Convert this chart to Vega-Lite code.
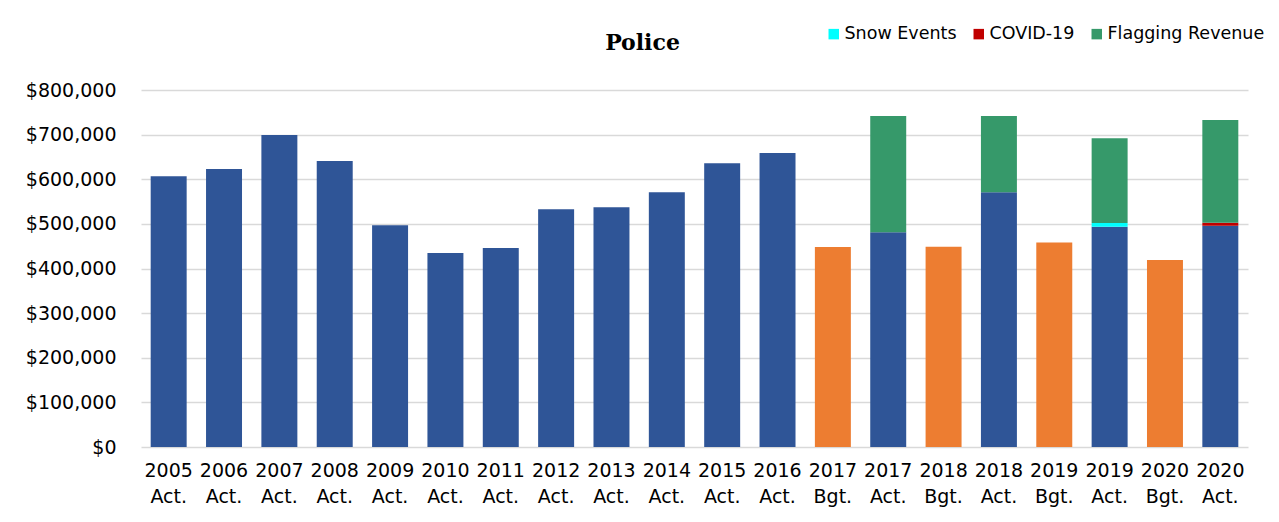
{
  "$schema": "https://vega.github.io/schema/vega-lite/v6.json",
  "width": 1107,
  "height": 357,
  "autosize": {"type": "none"},
  "padding": {"left": 141, "top": 90, "right": 31, "bottom": 75},
  "background": "white",
  "title": {
    "text": "Police",
    "font": "DejaVu Serif",
    "fontSize": 22,
    "fontWeight": "bold",
    "color": "#000000",
    "anchor": "middle",
    "dx": -52,
    "offset": -30
  },
  "data": {
    "values": [
      {"cat": "2005 Act.", "series": "Actual", "value": 607000, "ord": 1},
      {"cat": "2006 Act.", "series": "Actual", "value": 623000, "ord": 1},
      {"cat": "2007 Act.", "series": "Actual", "value": 699000, "ord": 1},
      {"cat": "2008 Act.", "series": "Actual", "value": 641000, "ord": 1},
      {"cat": "2009 Act.", "series": "Actual", "value": 497000, "ord": 1},
      {"cat": "2010 Act.", "series": "Actual", "value": 434500, "ord": 1},
      {"cat": "2011 Act.", "series": "Actual", "value": 446000, "ord": 1},
      {"cat": "2012 Act.", "series": "Actual", "value": 533000, "ord": 1},
      {"cat": "2013 Act.", "series": "Actual", "value": 537000, "ord": 1},
      {"cat": "2014 Act.", "series": "Actual", "value": 571000, "ord": 1},
      {"cat": "2015 Act.", "series": "Actual", "value": 636000, "ord": 1},
      {"cat": "2016 Act.", "series": "Actual", "value": 659000, "ord": 1},
      {"cat": "2017 Bgt.", "series": "Budget", "value": 448000, "ord": 1},
      {"cat": "2017 Act.", "series": "Actual", "value": 481000, "ord": 1},
      {"cat": "2017 Act.", "series": "Flagging Revenue", "value": 261000, "ord": 3},
      {"cat": "2018 Bgt.", "series": "Budget", "value": 449000, "ord": 1},
      {"cat": "2018 Act.", "series": "Actual", "value": 571000, "ord": 1},
      {"cat": "2018 Act.", "series": "Flagging Revenue", "value": 171000, "ord": 3},
      {"cat": "2019 Bgt.", "series": "Budget", "value": 458000, "ord": 1},
      {"cat": "2019 Act.", "series": "Actual", "value": 493500, "ord": 1},
      {"cat": "2019 Act.", "series": "Snow Events", "value": 8500, "ord": 2},
      {"cat": "2019 Act.", "series": "Flagging Revenue", "value": 190000, "ord": 3},
      {"cat": "2020 Bgt.", "series": "Budget", "value": 419000, "ord": 1},
      {"cat": "2020 Act.", "series": "Actual", "value": 496000, "ord": 1},
      {"cat": "2020 Act.", "series": "COVID-19", "value": 6500, "ord": 2},
      {"cat": "2020 Act.", "series": "Flagging Revenue", "value": 230500, "ord": 3}
    ]
  },
  "mark": {"type": "bar"},
  "encoding": {
    "x": {
      "field": "cat",
      "type": "nominal",
      "sort": null,
      "scale": {"paddingInner": 0.35, "paddingOuter": 0.175},
      "axis": {
        "title": null,
        "domain": false,
        "ticks": false,
        "labelAngle": 0,
        "labelExpr": "split(datum.label, ' ')",
        "labelFont": "DejaVu Sans",
        "labelFontSize": 19,
        "labelColor": "#000000",
        "labelLineHeight": 26,
        "labelPadding": 14,
        "labelBaseline": "top"
      }
    },
    "y": {
      "field": "value",
      "type": "quantitative",
      "stack": "zero",
      "scale": {"domain": [0, 800000]},
      "axis": {
        "title": null,
        "domain": false,
        "ticks": false,
        "values": [0, 100000, 200000, 300000, 400000, 500000, 600000, 700000, 800000],
        "labelExpr": "'$' + format(datum.value, ',')",
        "labelFont": "DejaVu Sans",
        "labelFontSize": 19,
        "labelColor": "#000000",
        "labelPadding": 25,
        "gridColor": "#D9D9D9",
        "gridWidth": 1.5
      }
    },
    "color": {
      "field": "series",
      "type": "nominal",
      "scale": {
        "domain": ["Actual", "Budget", "Snow Events", "COVID-19", "Flagging Revenue"],
        "range": ["#2F5597", "#ED7D31", "#00FFFF", "#C00000", "#36996A"]
      },
      "legend": {
        "title": null,
        "values": ["Snow Events", "COVID-19", "Flagging Revenue"],
        "orient": "none",
        "direction": "horizontal",
        "legendX": 684,
        "legendY": -65,
        "symbolType": "square",
        "symbolSize": 110,
        "symbolStrokeWidth": 0,
        "labelFont": "DejaVu Sans",
        "labelFontSize": 17.5,
        "labelColor": "#000000",
        "labelOffset": 2,
        "labelLimit": 300,
        "columnPadding": 13,
        "padding": 0
      }
    },
    "order": {"field": "ord", "type": "quantitative"}
  },
  "config": {"view": {"stroke": null}}
}
